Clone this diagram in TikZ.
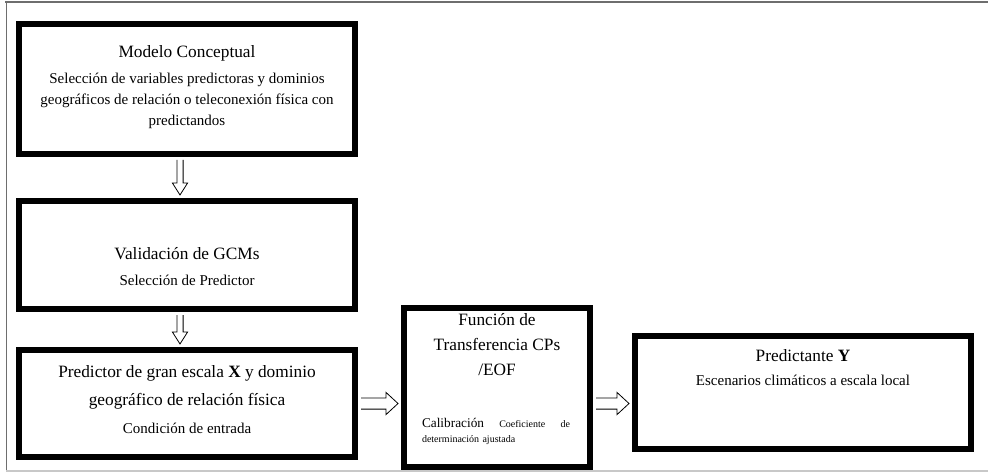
\documentclass[tikz,border=0pt]{standalone}
\usepackage{fontspec}
\setmainfont{Liberation Serif}
\usetikzlibrary{calc}

\definecolor{marco}{RGB}{110,110,110}
\definecolor{marcoclaro}{RGB}{200,200,200}
\newcommand{\ttlsize}{\fontsize{17.3}{21}\selectfont}
\newcommand{\subsize}{\fontsize{15}{21}\selectfont}

\begin{document}
\begin{tikzpicture}[x=1pt,y=-1pt,
	bloque/.style={draw,line width=6pt,inner sep=0pt,minimum width=336pt},
	texto/.style={align=center,inner sep=0pt,font=\subsize},
	% flecha de bloque hacia abajo
	flechav/.style={draw,fill=white,line width=0.8pt,to path={
		($(\tikztostart)+(-3.1,0)$) -- ($(\tikztotarget)+(-3.1,-12)$) -- ($(\tikztotarget)+(-7.6,-12)$)
		-- (\tikztotarget) -- ($(\tikztotarget)+(7.6,-12)$) -- ($(\tikztotarget)+(3.1,-12)$)
		-- ($(\tikztostart)+(3.1,0)$)}},
	% flecha de bloque hacia la derecha
	flechah/.style={draw,fill=white,line width=0.8pt,to path={
		($(\tikztostart)+(0,-5.6)$) -- ($(\tikztotarget)+(-12,-5.6)$) -- ($(\tikztotarget)+(-12,-11.1)$)
		-- (\tikztotarget) -- ($(\tikztotarget)+(-12,11.1)$) -- ($(\tikztotarget)+(-12,5.6)$)
		-- ($(\tikztostart)+(0,5.6)$)}}]
	\useasboundingbox (0,0) rectangle (988,473);
	% marco
	\draw[marco,line width=2pt] (5,2) -- (988,2);
	\draw[marco,line width=1.2pt] (6.5,2) -- (6.5,471);
	\draw[marcoclaro,line width=1.5pt] (6,471) -- (988,471);
	% cajas
	\node[bloque,minimum height=130pt] (modelo) at (187,89) {};
	\node[bloque,minimum height=108pt] (valida) at (187,255) {};
	\node[bloque,minimum height=107pt] (predictor) at (187,403.5) {};
	\node[bloque,minimum width=186pt,minimum height=159pt] (funcion) at (497,387.5) {};
	\node[bloque,minimum height=113pt] (predictante) at (803,392.5) {};
	% textos
	\node[texto] (tmodelo) at (187,87) {{\ttlsize Modelo Conceptual}\\[5pt]
		Selección de variables predictoras y dominios\\
		geográficos de relación o teleconexión física con\\
		predictandos};
	\node[texto] (tvalida) at (187,267) {{\ttlsize Validación de GCMs}\\[5pt]
		Selección de Predictor};
	\node[texto,font=\fontsize{17.3}{28}\selectfont] (tpredictor) at (187,400) {Predictor de gran escala \textbf{X} y dominio\\
		geográfico de relación física\\
		{\subsize Condición de entrada}};
	\node[texto,font=\fontsize{17.3}{25}\selectfont] (tfuncion) at (497,345) {Función de\\
		Transferencia CPs\\
		/EOF};
	\node[inner sep=0pt,text width=148pt,align=left,font=\fontsize{10}{15}\selectfont] (tcalib) at (496,431)
		{{\fontsize{13.3}{16}\selectfont Calibración}\hfill Coeficiente\hfill de\\
		determinación ajustada};
	\node[texto] (tpredictante) at (803,368) {{\ttlsize Predictante \textbf{Y}}\\[3pt]
		Escenarios climáticos a escala local};
	% flechas
	\draw[flechav] ([xshift=-7pt,yshift=-3pt]modelo.south) to ([xshift=-7pt,yshift=3pt]valida.north);
	\draw[flechav] ([xshift=-7pt,yshift=-3pt]valida.south) to ([xshift=-7pt,yshift=3pt]predictor.north);
	\draw[flechah] ([xshift=3pt]predictor.east) to ($(predictor.east -| funcion.west)+(-3,0)$);
	\draw[flechah] ($(predictor.east -| funcion.east)+(3,0)$) to ($(predictor.east -| predictante.west)+(-3,0)$);
\end{tikzpicture}
\end{document}
